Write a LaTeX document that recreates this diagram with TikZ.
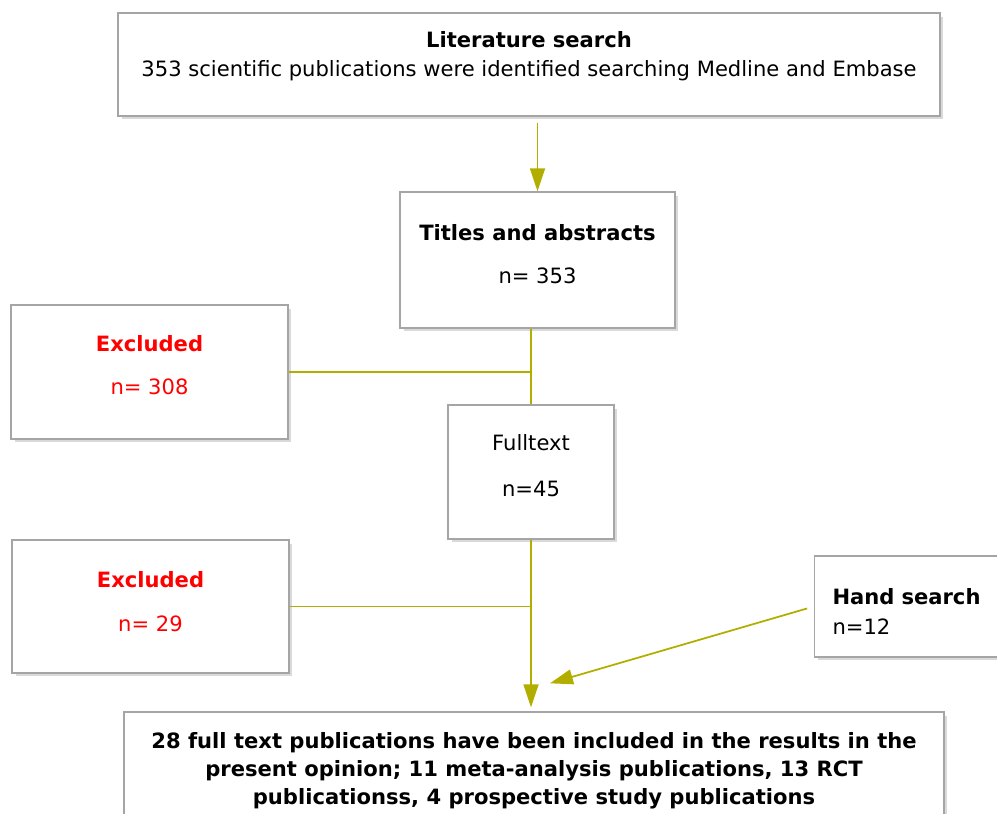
\documentclass[tikz,border=0pt]{standalone}
\usepackage{fontspec}
\setmainfont{DejaVu Sans}
\usetikzlibrary{arrows.meta,shadows}
\definecolor{olive line}{RGB}{178,174,0}
\definecolor{box gray}{RGB}{165,165,165}
\definecolor{excluded red}{RGB}{255,0,0}

\begin{document}
\begin{tikzpicture}[x=0.02cm,y=-0.02cm,
	box/.style={rectangle, draw=box gray, line width=0.8pt, fill=white, align=center, inner sep=0pt,
		drop shadow={opacity=0.3, shadow xshift=0.07cm, shadow yshift=-0.07cm}},
	excluded/.style={text=excluded red},
	flow/.style={draw=olive line, line width=1pt},
	flow arrow/.style={flow, -{Triangle[width=0.3cm,length=0.46cm]}},
	font=\fontsize{12}{14.5}\selectfont]
		\useasboundingbox (0,0) rectangle (997,814);
		
		%Search nodes
		\node (Literature Search) at (529,64.5) [box, minimum width=16.44cm, minimum height=2.06cm, 
		text depth=0.44cm]{\textbf{Literature search}\\[2pt] 353 scientific publications were identified searching Medline and Embase};
		\node (Titles Abstracts) at (537.5,260) [box, minimum width=5.5cm, minimum height=2.72cm, 
		text depth=0.25cm]{\textbf{Titles and abstracts}\\[10pt] n= 353};
		\node (Excluded 1) at (149.5,372) [box, excluded, minimum width=5.54cm, minimum height=2.68cm, 
		text depth=0.28cm]{\textbf{Excluded}\\[10.5pt] n= 308};
		\node (Fulltext) at (531,472) [box, minimum width=3.32cm, minimum height=2.68cm, 
		text depth=0.25cm]{Fulltext\\[11.5pt] n=45};
		\node (Excluded 2) at (150.5,606.5) [box, excluded, minimum width=5.54cm, minimum height=2.66cm, 
		text depth=0.2cm]{\textbf{Excluded}\\[10.5pt] n= 29};
		\node (Hand Search) at (912,606.5) [box, align=left, text width=3.18cm, inner xsep=0.36cm, 
		minimum height=2.02cm, text height=0.52cm]{\textbf{Hand search}\\[2.5pt] n=12};
		
		%Result node
		\node (Included) at (534,771) [box, minimum width=16.4cm, minimum height=2.36cm, 
		font=\fontsize{12}{16}\selectfont\bfseries]{28 full text publications have been included in the results in the\\ present opinion; 11 meta-analysis publications, 13 RCT\\ publicationss, 4 prospective study publications};
		
		%Flow links
		\draw[flow arrow, shorten <=0.12cm] (Titles Abstracts.north |- Literature Search.south) -- (Titles Abstracts.north);
		\draw[flow] (Titles Abstracts.south -| Fulltext.north) -- (Fulltext.north);
		\draw[flow] (Excluded 1.east) -- (Excluded 1.east -| Fulltext.north);
		\draw[flow arrow, shorten >=0.08cm] (Fulltext.south) -- (Fulltext.south |- Included.north);
		\draw[flow] (Excluded 2.east) -- (Excluded 2.east -| Fulltext.south);
		\coordinate (Hand Tip) at ([xshift=0.32cm,yshift=0.56cm]Included.north);
		\draw[flow arrow, shorten <=0.14cm] (Hand Search.west) -- (Hand Tip);
		
\end{tikzpicture}
\end{document}
